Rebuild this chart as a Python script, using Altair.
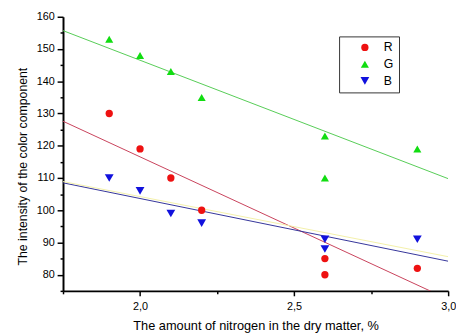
import altair as alt
import pandas as pd

# measured points
x_vals = [1.9, 2.0, 2.1, 2.2, 2.6, 2.6, 2.9]
R_vals = [130, 119, 110, 100, 85, 80, 82]
G_vals = [153, 148, 143, 135, 123, 110, 119]
B_vals = [110, 106, 99, 96, 91, 88, 91]

# fitted lines (endpoints at axis limits)
fit_x = [1.75, 3.0]
fit_R = [127.6, 72.4]
fit_G = [155.7, 109.8]
fit_B = [108.5, 84.2]
fit_Y = [108.9, 85.6]

series = ["R", "G", "B"]
point_colors = ["#ee1111", "#11dd11", "#1111dd"]
shapes = ["circle", "triangle-up", "triangle-down"]

rows = []
for s, vals in zip(series, [R_vals, G_vals, B_vals]):
    for xv, yv in zip(x_vals, vals):
        rows.append({"series": s, "x": xv, "y": yv})
pts = pd.DataFrame(rows)

lrows = []
for s, vals in zip(["R", "G", "B", "Y"], [fit_R, fit_G, fit_B, fit_Y]):
    for xv, yv in zip(fit_x, vals):
        lrows.append({"fit": s, "x": xv, "y": yv})
lines = pd.DataFrame(lrows)

xscale = alt.Scale(domain=[1.75, 3.0], nice=False, zero=False)
yscale = alt.Scale(domain=[75, 160], nice=False, zero=False)

font = "Liberation Sans"

xaxis = alt.Axis(values=[2.0, 2.5, 3.0], labelExpr="replace(format(datum.value, '.1f'), '.', ',')",
                 title="The amount of nitrogen in the dry matter, %", grid=False, orient="bottom",
                 domainColor="black", domainWidth=2, tickColor="black", tickWidth=1.5, tickSize=5,
                 labelFont=font, labelFontSize=11, labelColor="black", labelPadding=5,
                 titleFont=font, titleFontSize=13, titleFontWeight="normal", titleColor="black",
                 titlePadding=8, labelFlush=False)
yaxis = alt.Axis(values=[80, 90, 100, 110, 120, 130, 140, 150, 160],
                 title="The intensity of the color component", grid=False,
                 domainColor="black", domainWidth=2, tickColor="black", tickWidth=1.5, tickSize=6,
                 labelFont=font, labelFontSize=11, labelColor="black", labelPadding=3,
                 titleFont=font, titleFontSize=12.5, titleFontWeight="normal", titleColor="black",
                 titlePadding=7, titleY=152, orient="left", labelFlush=False)

line_layer = alt.Chart(lines).mark_line(strokeWidth=1, clip=True).encode(
    x=alt.X("x:Q", scale=xscale, axis=xaxis),
    y=alt.Y("y:Q", scale=yscale, axis=yaxis),
    detail="fit:N",
    color=alt.Color("fit:N", scale=alt.Scale(domain=["Y", "R", "G", "B"],
                                             range=["#f3f0a8", "#c8405a", "#55cc55", "#333399"]),
                    legend=None),
    order=alt.Order("x:Q"),
)

leg = alt.Legend(title=None, orient="none", legendX=281, legendY=20,
                 strokeColor="#333333", fillColor="white", padding=5,
                 symbolOffset=15, labelOffset=13, rowPadding=4,
                 labelFont=font, labelFontSize=12.5, labelColor="black",
                 symbolSize=60, symbolStrokeWidth=0)

point_layer = alt.Chart(pts).mark_point(filled=True, opacity=1, strokeWidth=0).encode(
    x=alt.X("x:Q", scale=xscale, axis=None),
    y=alt.Y("y:Q", scale=yscale, axis=None),
    color=alt.Color("series:N", scale=alt.Scale(domain=series, range=point_colors), legend=leg),
    shape=alt.Shape("series:N", scale=alt.Scale(domain=series, range=shapes), legend=leg),
    size=alt.Size("series:N", scale=alt.Scale(domain=series, range=[55, 80, 80]), legend=None),
)

minor_layer = alt.Chart(pts).mark_point(opacity=0).encode(
    x=alt.X("x:Q", scale=xscale,
            axis=alt.Axis(values=[1.75, 2.25, 2.75], labels=False, title=None, domain=False, grid=False,
                          tickColor="black", tickWidth=1.5, tickSize=3, orient="bottom")),
    y=alt.Y("y:Q", scale=yscale,
            axis=alt.Axis(values=[75, 85, 95, 105, 115, 125, 135, 145, 155], labels=False, title=None,
                          domain=False, grid=False, tickColor="black", tickWidth=1.5, tickSize=3,
                          orient="left")),
)

chart = alt.layer(line_layer, point_layer, minor_layer).resolve_axis(
    x="independent", y="independent"
).resolve_scale(color="independent", shape="independent", size="independent").properties(
    width=392, height=279, padding={"left": 56, "top": 6, "right": 8, "bottom": 42}, autosize="none",
    background="white"
).configure_view(stroke=None)

chart.save("out.html", embed_options={"renderer": "svg", "actions": False})
